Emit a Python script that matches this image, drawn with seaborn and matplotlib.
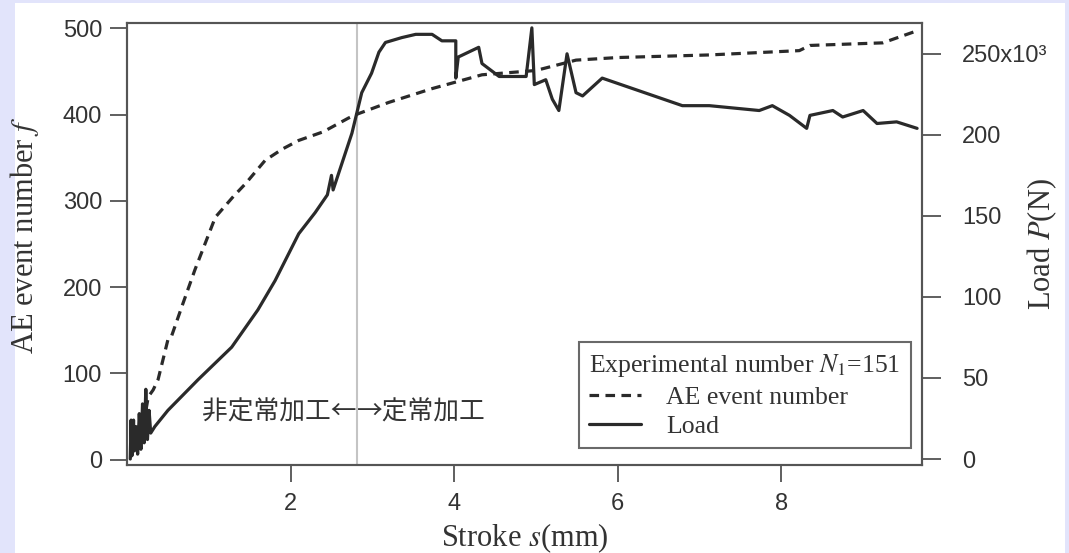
import matplotlib
matplotlib.use('Agg')
import matplotlib.pyplot as plt
import seaborn as sns
import pandas as pd
from matplotlib.lines import Line2D
from matplotlib.patches import Rectangle

# AE event number (left axis)
ae_stroke = [0.20, 0.26, 0.32, 0.38, 0.50, 0.54, 0.68, 0.83, 1.08, 1.30, 1.45,
             1.69, 1.90, 2.10, 2.40, 2.71, 2.83, 3.20, 3.73, 4.34, 5.00, 5.49,
             6.00, 7.12, 8.22, 8.35, 9.24, 9.36, 9.66]
ae_count = [40, 73, 81, 93, 139, 142, 180, 220, 281, 305, 320,
            347, 360, 370, 380, 396, 401, 414, 430, 446, 451, 463,
            466, 469, 474, 480, 483, 487, 497]

# Load in kN (right axis, x10^3 N)
load_stroke = [0.04, 0.05, 0.06, 0.08, 0.09, 0.11, 0.13, 0.15, 0.17, 0.19, 0.21,
               0.23, 0.25, 0.27, 0.29, 0.34, 0.50, 0.87, 1.28, 1.60, 1.81, 2.10,
               2.30, 2.45, 2.50, 2.52, 2.75, 2.87, 2.99, 3.08, 3.16, 3.36, 3.53,
               3.73, 3.85, 4.02, 4.02, 4.05, 4.30, 4.34, 4.55, 4.71, 4.88, 4.95,
               4.98, 5.12, 5.20, 5.28, 5.38, 5.49, 5.57, 5.81, 6.79, 7.12, 7.73,
               7.89, 8.10, 8.31, 8.35, 8.63, 8.75, 9.00, 9.17, 9.41, 9.66]
load_kn = [0, 24, 2, 24, 5, 20, 3, 28, 6, 34, 10,
           43, 12, 30, 16, 20, 30, 49, 69, 92, 110, 139,
           152, 163, 175, 166, 201, 226, 238, 251, 257, 260, 262,
           262, 258, 258, 235, 248, 254, 244, 236, 236, 236, 266,
           231, 234, 222, 215, 250, 226, 224, 235, 218, 218, 215,
           218, 212, 204, 212, 215, 211, 215, 207, 208, 204]

left_ticks = [0, 100, 200, 300, 400, 500]
right_ticks = [0, 50, 100, 150, 200, 250]
right_labels = ['0', '50', '100', '150', '200', '250x10³']
x_ticks = [2, 4, 6, 8]
boundary = 2.81

sns.set_theme(style='white')
plt.rcParams['font.family'] = ['Liberation Sans', 'DejaVu Sans']
plt.rcParams['mathtext.fontset'] = 'stix'

ae_df = pd.DataFrame({'stroke': ae_stroke, 'count': ae_count})
load_df = pd.DataFrame({'stroke': load_stroke, 'load': load_kn})

fig = plt.figure(figsize=(10.69, 5.53), dpi=100)
fig.patch.set_facecolor('#e2e4fb')
fig.patches.append(Rectangle((15 / 1069, 0), 1050 / 1069, 550 / 553,
                             transform=fig.transFigure, facecolor='white',
                             edgecolor='none', zorder=-1))

ax = fig.add_axes([127 / 1069, 88 / 553, 795 / 1069, 442 / 553])
ax2 = ax.twinx()
line_col = '#2a2a2a'

ax.axvline(boundary, color='#c4c4c4', lw=1.5, zorder=1)
sns.lineplot(data=ae_df, x='stroke', y='count', ax=ax, color=line_col,
             lw=2.3, sort=False, estimator=None, legend=False)
ax.lines[-1].set_dashes((3, 2))
sns.lineplot(data=load_df, x='stroke', y='load', ax=ax2, color=line_col,
             lw=2.3, sort=False, estimator=None, legend=False)

ax.set_xlim(0, 9.72)
ax.set_ylim(-6, 506)
ax2.set_ylim(-3.7, 269)
ax.set_xticks(x_ticks)
ax.set_yticks(left_ticks)
ax2.set_yticks(right_ticks)
ax2.set_yticklabels(right_labels)

for a in (ax, ax2):
    for s in a.spines.values():
        s.set_color('#555555')
        s.set_linewidth(1.5)
ax.tick_params(axis='both', direction='out', length=12, width=1.2,
               color='#444444', labelsize=17, labelcolor='#333333', pad=6)
ax.tick_params(axis='x', pad=8, bottom=True)
ax.tick_params(axis='y', left=True)
ax2.tick_params(axis='y', direction='out', length=14, width=1.2,
                color='#444444', labelsize=17, labelcolor='#333333', pad=15,
                right=True)

serif = ['Liberation Serif', 'DejaVu Serif']
ax.set_xlabel('Stroke $s$(mm)', family=serif, fontsize=22, color='#333333')
ax.set_ylabel('AE event number $f$', family=serif, fontsize=22,
              color='#333333')
ax2.set_ylabel('Load $P$(N)', family=serif, fontsize=22, color='#333333')
ax.xaxis.set_label_coords(0.5, -0.127)
ax.yaxis.set_label_coords(-0.108, 0.52)
ax2.yaxis.set_label_coords(1.13, 0.5)

jp = ['Noto Sans CJK JP', 'DejaVu Sans']
ax.text(boundary, 55, '非定常加工←', ha='right', va='center', family=jp,
        fontsize=18.5, color='#333333')
ax.text(boundary, 55, '→定常加工', ha='left', va='center', family=jp,
        fontsize=18.5, color='#333333')

handles = [Line2D([], [], color=line_col, lw=2.3, dashes=(3, 2)),
           Line2D([], [], color=line_col, lw=2.3)]
leg = ax.legend(handles, ['AE event number', 'Load'],
                title='Experimental number $N_1$=151',
                loc='lower right', bbox_to_anchor=(0.986, 0.038),
                prop={'family': serif, 'size': 18.5},
                title_fontproperties={'family': serif, 'size': 18.5},
                alignment='left', frameon=True, fancybox=False,
                handlelength=2.0, handletextpad=1.0, borderpad=0.4,
                labelspacing=0.25, borderaxespad=0)
leg.get_frame().set_edgecolor('#444444')
leg.get_frame().set_linewidth(1.5)
for t in leg.get_texts() + [leg.get_title()]:
    t.set_color('#333333')

fig.savefig('out.png', dpi=100, facecolor=fig.get_facecolor())
